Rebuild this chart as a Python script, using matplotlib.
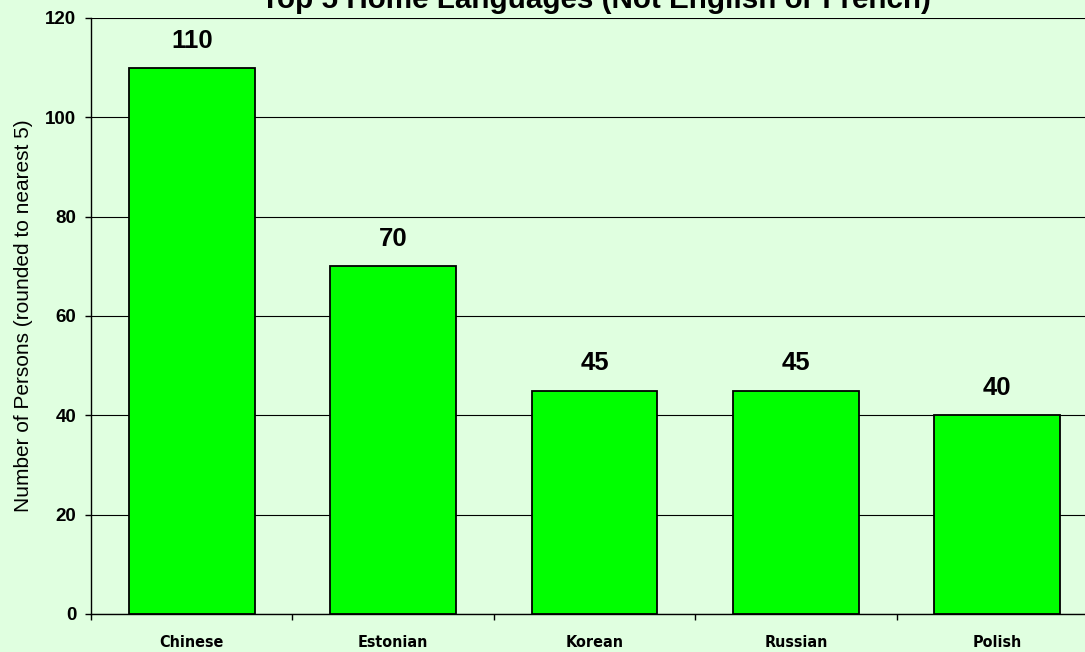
import matplotlib
matplotlib.use("Agg")
import matplotlib.pyplot as plt
from matplotlib import font_manager
from matplotlib.ticker import FixedLocator, NullFormatter

# dati
lingue = ["Chinese", "Estonian", "Korean", "Russian", "Polish"]
persone = [110, 70, 45, 45, 40]
tick_y = [0, 20, 40, 60, 80, 100, 120]

sfondo = "#E0FFE0"
verde = "#00FF00"
arial = ["Liberation Sans", "DejaVu Sans"]

# font stretto per le etichette dell'asse X (se c'e')
stretto = None
for fam, st in [("Liberation Sans Narrow", "normal"), ("DejaVu Sans", "condensed")]:
    fp = font_manager.FontProperties(family=fam, stretch=st, weight="bold")
    try:
        f = font_manager.findfont(fp, fallback_to_default=False)
    except Exception:
        f = ""
    if "Narrow" in f or "Condensed" in f:
        stretto = fp
        break

fig = plt.figure(figsize=(10.85, 6.52), dpi=100, facecolor=sfondo)
ax = fig.add_axes([91 / 1085, 1 - 614 / 652, (1098 - 91) / 1085, (614 - 18) / 652])
ax.set_facecolor(sfondo)

x = list(range(len(lingue)))
ax.bar(x, persone, width=0.625, color=verde, edgecolor="black", linewidth=1.3, zorder=3)

for xi, v in zip(x, persone):
    ax.annotate(str(v), (xi, v), xytext=(0, 14.5), textcoords="offset points",
                ha="center", va="baseline", fontsize=18.5, fontweight="bold",
                family=arial)

ax.set_xlim(-0.5, len(lingue) - 0.5)
ax.set_ylim(0, 120)
ax.set_yticks(tick_y)
ax.set_yticklabels([str(t) for t in tick_y], fontsize=13.5, fontweight="bold",
                   family=arial)
ax.yaxis.grid(True, color="black", linewidth=0.8, zorder=0)

ax.set_xticks(x)
if stretto is not None:
    etich = ax.set_xticklabels(lingue, fontproperties=stretto)
    for t in etich:
        t.set_fontsize(11.5)
else:
    ax.set_xticklabels(lingue, fontsize=11, fontweight="bold", family=arial)
ax.tick_params(axis="x", length=0, pad=15)
ax.xaxis.set_minor_locator(FixedLocator([i - 0.5 for i in range(len(lingue) + 1)]))
ax.xaxis.set_minor_formatter(NullFormatter())
ax.tick_params(axis="x", which="minor", length=4.5, width=1, direction="out")
ax.tick_params(axis="y", length=4.5, width=1, direction="out", pad=6)

for s in ["top", "right"]:
    ax.spines[s].set_visible(False)
ax.spines["left"].set_linewidth(1)
ax.spines["bottom"].set_linewidth(1)

ax.set_ylabel("Number of Persons (rounded to nearest 5)", fontsize=15,
              family=arial)
ax.yaxis.set_label_coords(-0.058, 0.5)

fig.text(596 / 1085, 1 - 7.5 / 652, "Top 5 Home Languages (Not English or French)",
         ha="center", va="baseline", fontsize=21.3, fontweight="bold",
         family=arial)

fig.savefig("out.png", dpi=100, facecolor=sfondo)
